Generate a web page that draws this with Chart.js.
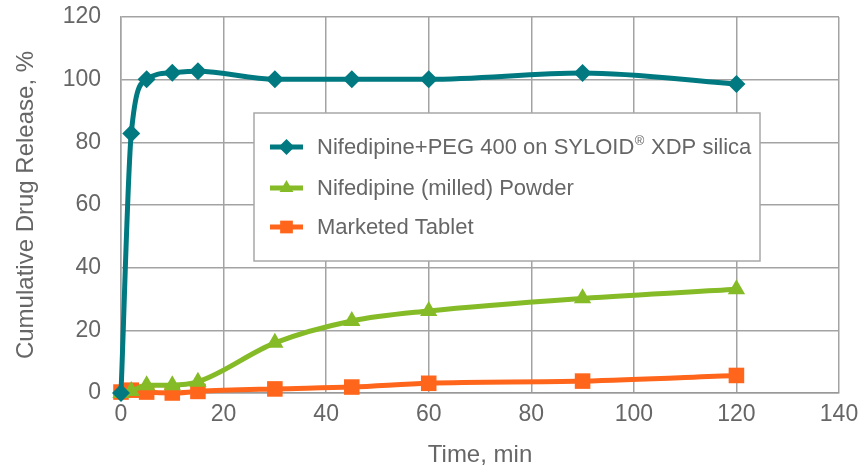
<!DOCTYPE html>
<html>
<head>
<meta charset="utf-8">
<script src="https://cdn.jsdelivr.net/npm/chart.js@4/dist/chart.umd.min.js"></script>
<style>
  html, body { margin: 0; padding: 0; background: #ffffff; }
  #wrap { position: relative; width: 861px; height: 474px; }
</style>
</head>
<body>
<div id="wrap"><canvas id="c" width="861" height="474"></canvas></div>
<script>
// ---- data ----
const seriesNames = [
  "Nifedipine+PEG 400 on SYLOID",
  "Nifedipine (milled) Powder",
  "Marketed Tablet"
];
const seriesSuffix = ["XDP silica", "", ""];
const syloidTime = [0, 2, 5, 10, 15, 30, 45, 60, 90, 120];
const syloidRelease = [0, 82.8, 100.1, 102.2, 102.7, 100.1, 100.1, 100.1, 102.1, 98.6];
const powderTime = [0, 2, 5, 10, 15, 30, 45, 60, 90, 120];
const powderRelease = [0, 0.6, 2.5, 2.5, 3.6, 16.0, 23.0, 26.2, 30.2, 33.1];
const tabletTime = [0, 2, 5, 10, 15, 30, 45, 60, 90, 120];
const tabletRelease = [0.3, 0.9, 0.3, 0.0, 0.5, 1.3, 1.9, 3.1, 3.8, 5.6];
const xTicks = [0, 20, 40, 60, 80, 100, 120, 140];
const yTicks = [0, 20, 40, 60, 80, 100, 120];
const xTitle = "Time, min";
const yTitle = "Cumulative Drug Release, %";

const colors = ["#007a80", "#85bb26", "#ff661c"];
const styles = ["rectRot", "triangle", "rect"];
const radii = [9, 10, 11];

function pts(xs, ys) { return xs.map((x, i) => ({ x: x, y: ys[i] })); }
const allData = [pts(syloidTime, syloidRelease), pts(powderTime, powderRelease), pts(tabletTime, tabletRelease)];

const textColor = "#666666";
const gridColor = "#a3a3a3";
const FONT = "'Liberation Sans', Arial, sans-serif";

const legendPlugin = {
  id: "boxLegend",
  afterDatasetsDraw(chart) {
    const ctx = chart.ctx;
    const bx = 254, by = 113, bw = 506, bh = 148;
    ctx.save();
    ctx.fillStyle = "#ffffff";
    ctx.fillRect(bx, by, bw, bh);
    ctx.strokeStyle = "#a8a8a8";
    ctx.lineWidth = 1.5;
    ctx.strokeRect(bx, by, bw, bh);
    const rows = [147, 188, 227];
    for (let i = 0; i < seriesNames.length; i++) {
      const y = rows[i];
      ctx.strokeStyle = colors[i];
      ctx.lineWidth = 5;
      ctx.beginPath();
      ctx.moveTo(270, y);
      ctx.lineTo(303, y);
      ctx.stroke();
      ctx.fillStyle = colors[i];
      Chart.helpers.drawPoint(ctx, {
        pointStyle: styles[i], rotation: 0, borderWidth: 0, radius: [8, 8, 9][i]
      }, 286.5, y);
      ctx.fillStyle = textColor;
      ctx.font = "22px " + FONT;
      ctx.textBaseline = "middle";
      ctx.textAlign = "left";
      let xx = 317;
      ctx.fillText(seriesNames[i], xx, y + 1);
      if (seriesSuffix[i]) {
        xx += ctx.measureText(seriesNames[i]).width;
        ctx.font = "13px " + FONT;
        ctx.fillText("\u00AE", xx + 0.5, y - 6);
        xx += ctx.measureText("\u00AE").width + 1;
        ctx.font = "22px " + FONT;
        ctx.fillText(" " + seriesSuffix[i], xx, y + 1);
      }
    }
    ctx.restore();
  }
};

const datasets = allData.map((d, i) => ({
  label: seriesNames[i] + (seriesSuffix[i] ? "\u00AE " + seriesSuffix[i] : ""),
  data: d,
  borderColor: colors[i],
  backgroundColor: colors[i],
  borderWidth: 5,
  pointStyle: styles[i],
  pointRadius: radii[i],
  pointBorderWidth: 0,
  pointBackgroundColor: colors[i],
  cubicInterpolationMode: "monotone",
  clip: false
}));

new Chart(document.getElementById("c"), {
  type: "line",
  data: { datasets: datasets },
  options: {
    responsive: false,
    animation: false,
    devicePixelRatio: 1,
    layout: { padding: { left: 0, right: 22, top: 17, bottom: 0 } },
    plugins: { legend: { display: false }, tooltip: { enabled: false } },
    scales: {
      x: {
        type: "linear",
        min: 0, max: 140,
        afterBuildTicks(s) { s.ticks = xTicks.map(v => ({ value: v })); },
        afterFit(s) { s.height = 81; s.paddingLeft = 0; s.paddingRight = 0; },
        grid: { color: gridColor, lineWidth: 1.5, drawTicks: false },
        border: { color: "#999999", width: 1.5 },
        ticks: { color: textColor, font: { size: 23, family: FONT }, padding: 8, maxRotation: 0 },
        title: { display: true, text: xTitle, color: textColor, font: { size: 24, family: FONT }, padding: { top: 2 } }
      },
      y: {
        min: 0, max: 120,
        afterBuildTicks(s) { s.ticks = yTicks.map(v => ({ value: v })); },
        afterFit(s) { s.width = 121; s.paddingTop = 0; s.paddingBottom = 0; },
        grid: { color: gridColor, lineWidth: 1.5, drawTicks: false },
        border: { color: gridColor, width: 1.5 },
        ticks: { color: textColor, font: { size: 23, family: FONT }, padding: 20 },
        title: { display: true, text: yTitle, color: textColor, font: { size: 24, family: FONT }, padding: { top: 12, bottom: 0 } }
      }
    }
  },
  plugins: [legendPlugin]
});
</script>
</body>
</html>
